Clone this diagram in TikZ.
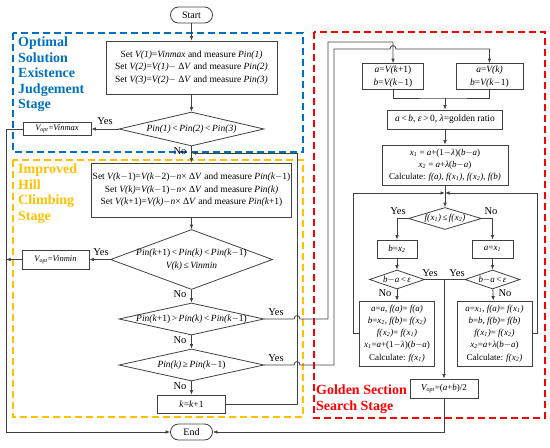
\documentclass[tikz,border=0pt]{standalone}
\usepackage{fontspec}
\setmainfont{Liberation Serif}
\usetikzlibrary{shapes.geometric,arrows.meta}

\definecolor{stageblue}{RGB}{0,112,192}
\definecolor{stageorange}{RGB}{255,192,0}
\definecolor{stagered}{RGB}{255,0,0}
\definecolor{linegray}{RGB}{64,64,64}

\newcommand{\iv}[1]{\textit{#1}}
\newcommand{\xs}[1]{\textit{x\textsubscript{#1}}}
\newcommand{\Vopt}{\textit{V\textsubscript{opt}}}

\tikzset{
  box/.style={draw=linegray, line width=0.8pt, fill=white, inner sep=1pt, align=center,
    font=\fontsize{9.5}{12.5}\selectfont},
  cond/.style={diamond, draw=linegray, line width=0.8pt, inner sep=-6pt, align=center,
    font=\fontsize{9.5}{12.5}\selectfont},
  term/.style={draw=linegray, line width=0.8pt, rounded corners=8pt, minimum width=42pt,
    minimum height=16pt, inner sep=1pt, font=\fontsize{10}{12}\selectfont},
  flow/.style={draw=linegray, line width=0.8pt},
  arr/.style={flow, -{Latex[length=4.5pt,width=3.6pt]}},
  lbl/.style={inner sep=0pt, font=\fontsize{10.5}{12}\selectfont},
  stage/.style={dash pattern=on 7pt off 4pt, line width=1.6pt},
  stagetxt/.style={anchor=north west, align=left, inner sep=0pt,
    font=\bfseries\fontsize{14}{15.5}\selectfont},
}

\begin{document}
\begin{tikzpicture}[x=1pt,y=-1pt]
  \useasboundingbox (0,0) rectangle (550,448);

  % stage frames
  \draw[stage, stageblue] (13,33) rectangle (303,152);
  \draw[stage, stageorange] (13,160) rectangle (303,417);
  \draw[stage, stagered] (314,32) rectangle (545,418);
  \node[stagetxt, stageblue] (lblopt) at (18,37) {Optimal\\Solution\\Existence\\Judgement\\Stage};
  \node[stagetxt, stageorange] (lblhill) at (18,164) {Improved\\Hill\\Climbing\\Stage};
  \node[stagetxt, stagered] (lblgold) at (316,385) {Golden Section\\Search Stage};

  % left column
  \node[term] (start) at (191.5,15) {Start};
  \node[box, minimum width=171pt, minimum height=53pt] (set1) at (191.5,67.5)
    {Set \iv{V(1)}=\iv{Vinmax} and measure \iv{Pin(1)}\\
     Set \iv{V(2)}=\iv{V(1)}$-$ Δ\iv{V} and measure \iv{Pin(2)}\\
     Set \iv{V(3)}=\iv{V(2)}$-$ Δ\iv{V} and measure \iv{Pin(3)}};
  \node[cond, minimum width=145pt, minimum height=34pt, aspect=4.2] (c1) at (191.5,129)
    {\iv{Pin(1)}\,<\,\iv{Pin(2)}\,<\,\iv{Pin(3)}};
  \node[box, minimum width=68pt, minimum height=13pt, font=\fontsize{8.5}{10}\selectfont] (vmax) at (57,129)
    {\Vopt=\iv{Vinmax}};
  \node[box, minimum width=197pt, minimum height=54pt] (set2) at (191.5,190)
    {Set \iv{V(k}$-$1)=\iv{V(k}$-$2)$-$\iv{n}× Δ\iv{V} and measure \iv{Pin(k}$-$1)\\
     Set \iv{V(k)}=\iv{V(k}$-$1)$-$\iv{n}× Δ\iv{V} and measure \iv{Pin(k)}\\
     Set \iv{V(k}+1)=\iv{V(k)}$-$\iv{n}× Δ\iv{V} and measure \iv{Pin(k}+1)};
  \node[cond, minimum width=162pt, minimum height=60pt, aspect=2.7] (c2) at (191.5,259.5)
    {\iv{Pin(k}+1)\,<\,\iv{Pin(k)}\,<\,\iv{Pin(k}$-$1)\\ \iv{V(k)}\,≤\,\iv{Vinmin}};
  \node[box, minimum width=67pt, minimum height=19pt, font=\fontsize{8.5}{10}\selectfont] (vmin) at (55.5,259.5)
    {\Vopt=\iv{Vinmin}};
  \node[cond, minimum width=145pt, minimum height=32pt, aspect=4.5] (c3) at (191.5,319)
    {\iv{Pin(k}+1)\,>\,\iv{Pin(k)}\,<\,\iv{Pin(k}$-$1)};
  \node[cond, minimum width=145pt, minimum height=32pt, aspect=4.5] (c4) at (191.5,365)
    {\iv{Pin(k)}\,≥\,\iv{Pin(k}$-$1)};
  \node[box, minimum width=68pt, minimum height=18pt] (kinc) at (191.5,404) {\iv{k}=\iv{k}+1};
  \node[term] (end) at (191.5,432) {End};

  % right column
  \node[box, minimum width=61pt, minimum height=26pt] (setA) at (393,76.5)
    {\iv{a}=\iv{V(k}+1)\\ \iv{b}=\iv{V(k}$-$1)};
  \node[box, minimum width=67pt, minimum height=26pt] (setB) at (489.5,76.5)
    {\iv{a}=\iv{V(k)}\\ \iv{b}=\iv{V(k}$-$1)};
  \node[box, minimum width=115pt, minimum height=19pt] (init) at (445,119.5)
    {\iv{a}\,<\,\iv{b}, \iv{ε}\,>\,0, \iv{λ}=golden ratio};
  \node[box, minimum width=126pt, minimum height=40pt, font=\fontsize{9}{12}\selectfont] (calc) at (445,165)
    {\xs{1} = \iv{a}+(1$-$\iv{λ})(\iv{b}$-$\iv{a})\\
     \xs{2} = \iv{a}+\iv{λ}(\iv{b}$-$\iv{a})\\
     Calculate: \iv{f(a)}, \iv{f(}\xs{1}\iv{)}, \iv{f(}\xs{2}\iv{)}, \iv{f(b)}};
  \node[cond, minimum width=73pt, minimum height=22pt, aspect=3.3, font=\fontsize{9}{11}\selectfont] (cf) at (445,218.5)
    {\iv{f(}\xs{1}\iv{)}\,≤\,\iv{f(}\xs{2}\iv{)}};
  \node[box, minimum width=40pt, minimum height=18pt, font=\fontsize{9}{11}\selectfont] (bx) at (397,249) {\iv{b}=\xs{2}};
  \node[box, minimum width=41pt, minimum height=18pt, font=\fontsize{9}{11}\selectfont] (ax) at (492.5,249) {\iv{a}=\xs{1}};
  \node[cond, minimum width=55pt, minimum height=19pt, aspect=2.9, font=\fontsize{9}{11}\selectfont] (epsL) at (397,279.5)
    {\iv{b}$-$\iv{a}\,<\,\iv{ε}};
  \node[cond, minimum width=55pt, minimum height=19pt, aspect=2.9, font=\fontsize{9}{11}\selectfont] (epsR) at (492.5,279.5)
    {\iv{b}$-$\iv{a}\,<\,\iv{ε}};
  \node[box, minimum width=75pt, minimum height=65pt, font=\fontsize{9}{12.2}\selectfont] (updL) at (397,333.5)
    {\iv{a}=\iv{a}, \iv{f(a)}= \iv{f(a)}\\
     \iv{b}=\xs{2}, \iv{f(b)}= \iv{f(}\xs{2}\iv{)}\\
     \iv{f(}\xs{2}\iv{)}= \iv{f(}\xs{1}\iv{)}\\
     \xs{1}=\iv{a}+(1$-$\iv{λ})(\iv{b}$-$\iv{a})\\
     Calculate: \iv{f(}\xs{1}\iv{)}};
  \node[box, minimum width=75pt, minimum height=65pt, font=\fontsize{9}{12.2}\selectfont] (updR) at (494.5,333.5)
    {\iv{a}=\xs{1}, \iv{f(a)}= \iv{f(}\xs{1}\iv{)}\\
     \iv{b}=\iv{b}, \iv{f(b)}= \iv{f(b)}\\
     \iv{f(}\xs{1}\iv{)}= \iv{f(}\xs{2}\iv{)}\\
     \xs{2}=\iv{a}+\iv{λ}(\iv{b}$-$\iv{a})\\
     Calculate: \iv{f(}\xs{2}\iv{)}};
  \node[box, minimum width=68pt, minimum height=19pt, font=\fontsize{9}{11}\selectfont] (vgold) at (444,388.5)
    {\Vopt=(\iv{a}+\iv{b})/2};

  % junction points
  \coordinate (jn) at (191.5,153);
  \coordinate (lbus) at (6,259.5);
  \coordinate (mergeAB) at (445,98);
  \coordinate (jloop) at (445,193);
  \coordinate (jeps) at (444,279.5);

  % left connectors
  \draw[arr] (start) -- (set1);
  \draw[arr] (set1) -- (c1);
  \draw[arr] (c1.west) -- (vmax.east);
  \draw[arr] (c1) -- (set2);
  \draw[arr] (set2) -- (c2);
  \draw[arr] (c2.west) -- (vmin.east);
  \draw[arr] (c2) -- (c3);
  \draw[arr] (c3) -- (c4);
  \draw[arr] (c4) -- (kinc);
  \draw[arr] (kinc.east) -- (297,404) -- (297,153) -- (jn);
  \draw[arr] (vmax.west) -- (6,129) |- (end.west);
  \draw[arr] (vmin.west) -- (lbus);

  % jumps to the golden section stage
  \draw[arr] (c3.east) -- (294,319) .. controls (294,314.5) and (300,314.5) .. (300,319)
    -- (328,319) -- (328,42) -- (setA.north |- 0,42) -- (setA.north);
  \draw[arr] (c4.east) -- (294,365) .. controls (294,360.5) and (300,360.5) .. (300,365)
    -- (334,365) -- (334,49) -- (390,49) .. controls (390,44.5) and (396,44.5) .. (396,49)
    -- (setB.north |- 0,49) -- (setB.north);

  % right connectors
  \draw[flow] (setA.south) |- (mergeAB) -| (setB.south);
  \draw[arr] (mergeAB) -- (init);
  \draw[arr] (init) -- (calc);
  \draw[arr] (calc) -- (cf);
  \draw[arr] (cf.west) -| (bx.north);
  \draw[arr] (cf.east) -| (ax.north);
  \draw[arr] (bx) -- (epsL);
  \draw[arr] (ax) -- (epsR);
  \draw[arr] (epsL) -- (updL);
  \draw[arr] (epsR) -- (updR);
  \draw[arr] (updL.west) -- (353,333.5) -- (353,193) -- (jloop);
  \draw[arr] (updR.east) -- (537,333.5) -- (537,193) -- (jloop);
  \draw[flow] (epsL.east) -- (jeps);
  \draw[flow] (epsR.west) -- (jeps);
  \draw[arr] (jeps) -- (vgold);
  \draw[arr] (vgold.south) |- (end.east);

  % branch labels
  \node[lbl] (y1) at (105,121) {Yes};
  \node[lbl] (n1) at (180,151) {No};
  \node[lbl] (y2) at (101,252) {Yes};
  \node[lbl] (n2) at (180,294) {No};
  \node[lbl] (y3) at (276,312) {Yes};
  \node[lbl] (n3) at (180,340) {No};
  \node[lbl] (y4) at (276,358) {Yes};
  \node[lbl] (n4) at (180,386) {No};
  \node[lbl] (y5) at (398,211) {Yes};
  \node[lbl] (n5) at (491,211) {No};
  \node[lbl] (y6) at (430,273) {Yes};
  \node[lbl] (y7) at (457,273) {Yes};
  \node[lbl] (n6) at (385,293) {No};
  \node[lbl] (n7) at (505,293) {No};
\end{tikzpicture}
\end{document}
